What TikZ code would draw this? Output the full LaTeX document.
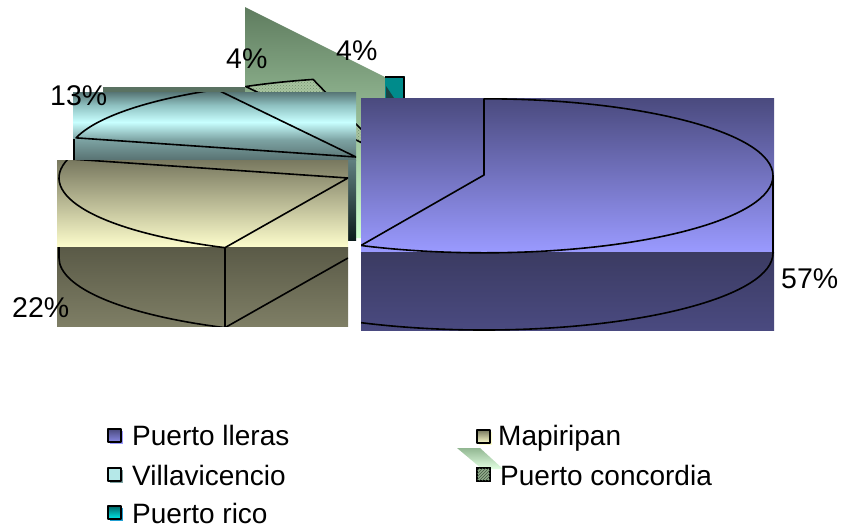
\documentclass[tikz,border=0pt]{standalone}
\usepackage{fontspec}
\setmainfont{Liberation Sans}
\usetikzlibrary{patterns,shadows}
\definecolor{blueTop}{HTML}{4A4A7E}
\definecolor{blueBot}{HTML}{9A9AFF}
\definecolor{blueSideTop}{HTML}{3B3B62}
\definecolor{blueSideBot}{HTML}{4A4A80}
\definecolor{mapTop}{HTML}{78785F}
\definecolor{mapBot}{HTML}{FDFDCC}
\definecolor{mapSideTop}{HTML}{5A5A47}
\definecolor{mapSideBot}{HTML}{7E7E65}
\definecolor{cyA}{HTML}{577575}
\definecolor{cyB}{HTML}{8EC0C0}
\definecolor{cyC}{HTML}{C8FFFF}
\definecolor{cyD}{HTML}{7CA2A2}
\definecolor{cyE}{HTML}{587272}
\definecolor{cyF}{HTML}{607F7F}
\definecolor{cyG}{HTML}{0C1C1C}
\definecolor{gTop}{HTML}{5F7C5F}
\definecolor{gBot}{HTML}{D0FFD0}
\definecolor{gStrip}{HTML}{5A7262}
\definecolor{hatchBase}{HTML}{A8C4A0}
\definecolor{hatchDot}{HTML}{6F8F6C}
\definecolor{teal1}{HTML}{008B8B}
\definecolor{tealDark}{HTML}{1A4444}
\begin{document}
\begin{tikzpicture}[x=1pt,y=1pt,line join=round,
  outl/.style={draw=black,line width=1.6pt},
  pct/.style={font=\fontsize{28.5}{34}\selectfont,inner sep=0pt,anchor=base west},
  legtxt/.style={font=\fontsize{28}{34}\selectfont,inner sep=0pt,anchor=base west},
  legbox/.style={draw=black,line width=1.3pt,minimum size=13pt,inner sep=0pt},
  ell/.style={x radius=289pt,y radius=77pt}]
\useasboundingbox (0,0) rectangle (844,-528);

% ---- Puerto concordia (back shape)
\shade[top color=gTop,bottom color=gBot] (245,-7) -- (385,-77) -- (385,-238) -- (245,-238) -- cycle;
\fill[gStrip] (103,-87) rectangle (245,-92);
\begin{scope}
  \clip (245,-7) -- (385,-77) -- (385,-238) -- (245,-238) -- cycle;
  \fill[hatchBase] (385,-154) -- ++(118.8:289pt and 77pt) arc[start angle=118.8,end angle=104.4,ell] -- cycle;
  \fill[pattern=crosshatch dots,pattern color=hatchDot] (385,-154) -- ++(118.8:289pt and 77pt) arc[start angle=118.8,end angle=104.4,ell] -- cycle;
  \draw[outl] (385,-154) -- ++(118.8:289pt and 77pt) arc[start angle=118.8,end angle=104.4,ell] -- cycle;
\end{scope}

% ---- Puerto rico
\fill[teal1] (385,-76) rectangle (405,-98);
\fill[tealDark] (386,-86) -- (394,-98) -- (386,-98) -- cycle;
\draw[line width=1.6pt] (385,-76.8) -- (404.2,-76.8) -- (404.2,-98);

% ---- Villavicencio
\shade[top color=cyA,bottom color=cyB] (73,-92) rectangle (356,-105);
\shade[top color=cyB,bottom color=cyC] (73,-105) rectangle (356,-122);
\shade[top color=cyC,bottom color=cyD] (73,-122) rectangle (356,-140);
\shade[top color=cyD,bottom color=cyE] (73,-140) rectangle (356,-160);
\shade[top color=cyF,bottom color=cyG] (73,-160) rectangle (356,-240);
\begin{scope}
  \clip (73,-92) rectangle (356,-240);
  \draw[outl] (356,-157) -- ++(118.8:289pt and 77pt) arc[start angle=118.8,end angle=165.6,ell] -- cycle;
  \draw[outl] (74,-139) -- (74,-170);
\end{scope}

% ---- Mapiripan
\shade[top color=mapTop,bottom color=mapBot] (57,-160) rectangle (348,-247);
\shade[top color=mapSideTop,bottom color=mapSideBot] (57,-247) rectangle (348,-326);
\begin{scope}
  \clip (57,-160) rectangle (348,-326);
  \draw[outl] (348,-178) -- ++(165.6:289pt and 77pt) arc[start angle=165.6,end angle=244.8,ell] -- cycle;
  \draw[outl] (59,-247) -- (59,-258) arc[start angle=180,end angle=244.8,ell] -- (348,-258);
  \draw[outl] (224.8,-247.7) -- (224.8,-327.7);
\end{scope}

% ---- Puerto lleras
\shade[top color=blueTop,bottom color=blueBot] (361,-98) rectangle (774,-252);
\shade[top color=blueSideTop,bottom color=blueSideBot] (361,-252) rectangle (774,-330);
\begin{scope}
  \clip (361,-98) rectangle (774,-330);
  \draw[outl] (484,-175) -- (484,-98.8) arc[start angle=90,end angle=-115.2,ell] -- cycle;
  \draw[outl] (773,-175) -- (773,-253) arc[start angle=0,end angle=-115.2,ell];
\end{scope}

% ---- percentage labels
\node[pct] (l57) at (781,-288) {57\%};
\node[pct] (l22) at (12,-317) {22\%};
\node[pct] (l13) at (50,-105) {13\%};
\node[pct] (l4a) at (226,-68) {4\%};
\node[pct] (l4b) at (336,-60) {4\%};

% ---- legend
\node[legbox,top color=blueTop,bottom color=blueBot!80!blueTop,
  drop shadow={fill=blueBot,opacity=1,shadow xshift=1.6pt,shadow yshift=-1.6pt}] (k1) at (114.5,-435.5) {};
\node[legtxt] (t1) at (132,-445) {Puerto lleras};
\node[legbox,fill=cyC!75!cyD,
  drop shadow={fill=cyD,opacity=1,shadow xshift=1.6pt,shadow yshift=-1.6pt}] (k2) at (114.5,-474.5) {};
\node[legtxt] (t2) at (132,-485) {Villavicencio};
\node[legbox,top color=teal!80!black,bottom color=cyan!85!teal,
  drop shadow={fill=cyan!70!teal,opacity=1,shadow xshift=1.6pt,shadow yshift=-1.6pt}] (k3) at (114.5,-512.5) {};
\node[legtxt] (t3) at (132,-523) {Puerto rico};
\node[legbox,top color=mapTop,bottom color=mapBot,
  drop shadow={fill=mapBot,opacity=1,shadow xshift=1.6pt,shadow yshift=-1.6pt}] (k4) at (483.5,-436.5) {};
\node[legtxt] (t4) at (498,-445) {Mapiripan};
\shade[top color=gTop!55!gBot,bottom color=gBot!60!white] (457,-448) -- (480,-448) -- (503,-469) -- (482,-469) -- cycle;
\node[legbox,fill=hatchBase!70!gTop] (k5) at (483.5,-474.5) {};
\fill[pattern=north east lines,pattern color=gTop!70!black] (k5.south west) rectangle (k5.north east);
\draw[black,line width=1.3pt] (k5.south west) rectangle (k5.north east);
\node[legtxt] (t5) at (500,-485) {Puerto concordia};
\end{tikzpicture}
\end{document}
